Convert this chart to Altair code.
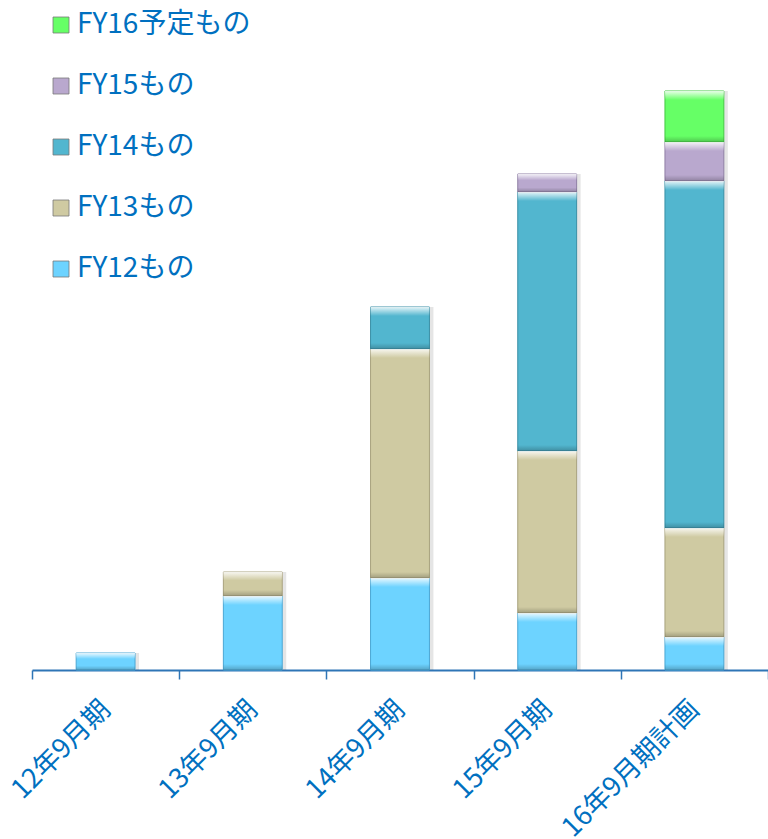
import altair as alt
import pandas as pd

# Fiscal periods on the x axis
periods = ["12年9月期", "13年9月期", "14年9月期", "15年9月期", "16年9月期計画"]

# Vintage series, stacked bottom to top
series = ["FY12もの", "FY13もの", "FY14もの", "FY15もの", "FY16予定もの"]
fy12 = [17, 74, 92, 57, 33]
fy13 = [0, 24, 229, 162, 109]
fy14 = [0, 0, 42, 259, 347]
fy15 = [0, 0, 0, 18, 39]
fy16 = [0, 0, 0, 0, 51]
values = [fy12, fy13, fy14, fy15, fy16]

# Face colour and edge colour per series
fills = ["#6DD3FF", "#CFCAA2", "#52B6CF", "#B9A8CE", "#66FF66"]
edges = ["#4BA7D4", "#A8A27E", "#3A8FA6", "#8F7FA5", "#45C845"]

rows = []
for p_i, period in enumerate(periods):
    base = 0
    for s_i, name in enumerate(series):
        v = values[s_i][p_i]
        if v <= 0:
            continue
        rows.append({
            "period": period, "series": name, "value": v,
            "y0": base, "y1": base + v, "edge": edges[s_i],
        })
        base += v
df = pd.DataFrame(rows)
totals = df.groupby("period", as_index=False)["y1"].max()

FONT = "Noto Sans CJK JP"
BLUE = "#0070C0"
BAR = alt.RelativeBandSize(0.4)

x_enc = alt.X(
    "period:N", sort=periods,
    scale=alt.Scale(paddingInner=0, paddingOuter=0),
    axis=alt.Axis(
        title=None, grid=False, tickBand="extent",
        domainColor="#2E75B6", domainWidth=2,
        tickColor="#2E75B6", tickWidth=1.5, tickSize=9,
        labelAngle=-45, labelAlign="right", labelBaseline="middle",
        labelFontSize=27, labelFont=FONT, labelColor=BLUE, labelPadding=26,
        labelLimit=0,
    ),
)
y_scale = alt.Scale(domain=[0, 670])

# soft drop shadow on the right of each column
shadow = alt.Chart(totals).mark_bar(
    color="#000000", opacity=0.10, xOffset=4, width=BAR
).encode(
    x=x_enc,
    y=alt.Y("y1:Q", scale=y_scale, axis=None),
    y2=alt.datum(0),
)

faces = alt.Chart(df).mark_bar(strokeWidth=1, width=BAR).encode(
    x=x_enc,
    y=alt.Y("y1:Q", scale=y_scale, axis=None),
    y2="y0:Q",
    color=alt.Color(
        "series:N",
        scale=alt.Scale(domain=series[::-1], range=fills[::-1]),
        legend=alt.Legend(
            orient="none", legendX=15, legendY=11, title=None,
            symbolType="square", symbolSize=256,
            symbolStrokeColor="#7A7A7A", symbolStrokeWidth=0.8,
            labelFontSize=28, labelFont=FONT, labelColor=BLUE,
            labelOffset=2, rowPadding=33, labelLimit=0,
        ),
    ),
    stroke=alt.Stroke("edge:N", scale=None),
)

bevel = alt.Chart(df).transform_calculate(
    hi_bot="datum.y1 - min(9, datum.value * 0.35)",
    lo_top="datum.y0 + min(6, datum.value * 0.25)",
)

# light bevel along the top of each segment
top_light = bevel.mark_bar(
    width=BAR,
    color=alt.LinearGradient(
        gradient="linear", x1=0, y1=0, x2=0, y2=1,
        stops=[
            alt.GradientStop(color="rgba(255,255,255,0.85)", offset=0),
            alt.GradientStop(color="rgba(255,255,255,0.0)", offset=1),
        ],
    ),
).encode(
    x=x_enc,
    y=alt.Y("y1:Q", scale=y_scale, axis=None),
    y2="hi_bot:Q",
)

# darker bevel along the bottom of each segment
bottom_dark = bevel.mark_bar(
    width=BAR,
    color=alt.LinearGradient(
        gradient="linear", x1=0, y1=0, x2=0, y2=1,
        stops=[
            alt.GradientStop(color="rgba(0,0,0,0.0)", offset=0),
            alt.GradientStop(color="rgba(0,0,0,0.22)", offset=1),
        ],
    ),
).encode(
    x=x_enc,
    y=alt.Y("lo_top:Q", scale=y_scale, axis=None),
    y2="y0:Q",
)

chart = (
    alt.layer(shadow, faces, top_light, bottom_dark)
    .properties(
        width=736, height=670,
        background="#FFFFFF",
        autosize=alt.AutoSizeParams(type="none"),
        padding={"left": 32, "top": 0, "right": 0, "bottom": 169},
    )
    .configure_view(strokeWidth=0, stroke="transparent")
)

chart.save("out.html", embed_options={"renderer": "svg", "actions": False})
